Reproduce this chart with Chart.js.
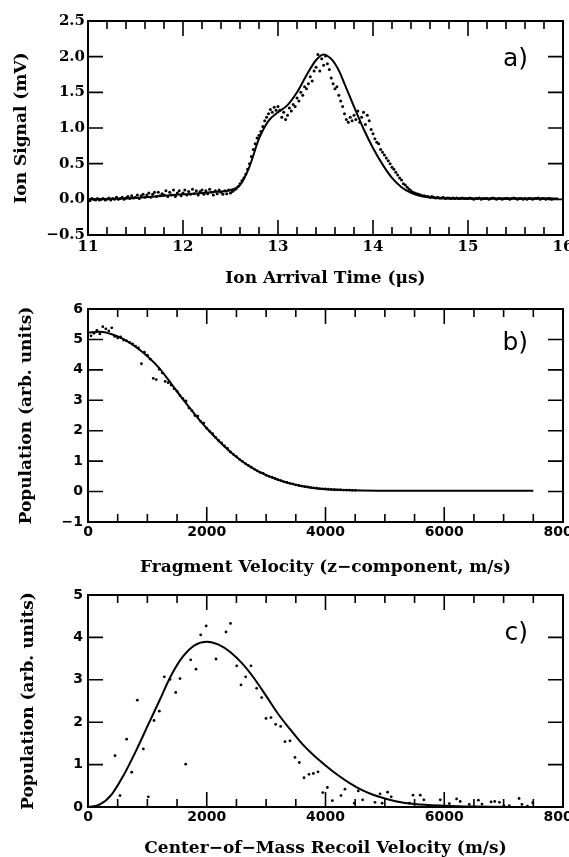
<!DOCTYPE html>
<html>
<head>
<meta charset="utf-8">
<script src="https://cdn.jsdelivr.net/npm/chart.js@4"></script>
<style>
  html, body { margin: 0; padding: 0; background: #fff; }
  body { position: relative; width: 569px; height: 857px; overflow: hidden; }
  canvas { position: absolute; left: 0; }
</style>
</head>
<body>
<canvas id="panelA" width="569" height="290" style="top:0px"></canvas>
<canvas id="panelB" width="569" height="287" style="top:290px"></canvas>
<canvas id="panelC" width="569" height="280" style="top:577px"></canvas>
<script>
// panel a: ion arrival time (us) vs ion signal (mV)
const aTime = [
  11.00, 11.02, 11.04, 11.06, 11.08, 11.10, 11.12, 11.14, 11.16, 11.18,
  11.20, 11.22, 11.24, 11.26, 11.28, 11.30, 11.32, 11.34, 11.36, 11.38,
  11.40, 11.42, 11.44, 11.46, 11.48, 11.50, 11.52, 11.54, 11.56, 11.58,
  11.60, 11.62, 11.64, 11.66, 11.68, 11.70, 11.72, 11.74, 11.76, 11.78,
  11.80, 11.82, 11.84, 11.86, 11.88, 11.90, 11.92, 11.94, 11.96, 11.98,
  12.00, 12.02, 12.04, 12.06, 12.08, 12.10, 12.12, 12.14, 12.16, 12.18,
  12.20, 12.22, 12.24, 12.26, 12.28, 12.30, 12.32, 12.34, 12.36, 12.38,
  12.40, 12.42, 12.44, 12.46, 12.48, 12.50, 12.52, 12.54, 12.56, 12.58,
  12.60, 12.62, 12.64, 12.66, 12.68, 12.70, 12.72, 12.74, 12.76, 12.78,
  12.80, 12.82, 12.84, 12.86, 12.88, 12.90, 12.92, 12.94, 12.96, 12.98,
  13.00, 13.02, 13.04, 13.06, 13.08, 13.10, 13.12, 13.14, 13.16, 13.18,
  13.20, 13.22, 13.24, 13.26, 13.28, 13.30, 13.32, 13.34, 13.36, 13.38,
  13.40, 13.42, 13.44, 13.46, 13.48, 13.50, 13.52, 13.54, 13.56, 13.58,
  13.60, 13.62, 13.64, 13.66, 13.68, 13.70, 13.72, 13.74, 13.76, 13.78,
  13.80, 13.82, 13.84, 13.86, 13.88, 13.90, 13.92, 13.94, 13.96, 13.98,
  14.00, 14.02, 14.04, 14.06, 14.08, 14.10, 14.12, 14.14, 14.16, 14.18,
  14.20, 14.22, 14.24, 14.26, 14.28, 14.30, 14.32, 14.34, 14.36, 14.38,
  14.40, 14.42, 14.44, 14.46, 14.48, 14.50, 14.52, 14.54, 14.56, 14.58,
  14.60, 14.62, 14.64, 14.66, 14.68, 14.70, 14.72, 14.74, 14.76, 14.78,
  14.80, 14.82, 14.84, 14.86, 14.88, 14.90, 14.92, 14.94, 14.96, 14.98,
  15.00, 15.02, 15.04, 15.06, 15.08, 15.10, 15.12, 15.14, 15.16, 15.18,
  15.20, 15.22, 15.24, 15.26, 15.28, 15.30, 15.32, 15.34, 15.36, 15.38,
  15.40, 15.42, 15.44, 15.46, 15.48, 15.50, 15.52, 15.54, 15.56, 15.58,
  15.60, 15.62, 15.64, 15.66, 15.68, 15.70, 15.72, 15.74, 15.76, 15.78,
  15.80, 15.82, 15.84, 15.86, 15.88
];
const aSignal = [
  0.00, -0.02, 0.01, 0.00, -0.01, 0.01, -0.01, 0.00, 0.01, -0.01,
  0.00, 0.02, -0.01, 0.01, 0.00, 0.03, 0.00, 0.01, 0.03, 0.00,
  0.02, 0.04, 0.01, 0.05, 0.02, 0.03, 0.06, 0.01, 0.05, 0.07,
  0.03, 0.06, 0.09, 0.03, 0.07, 0.10, 0.04, 0.10, 0.05, 0.08,
  0.06, 0.12, 0.04, 0.10, 0.06, 0.13, 0.04, 0.09, 0.12, 0.05,
  0.09, 0.13, 0.06, 0.11, 0.07, 0.14, 0.08, 0.12, 0.06, 0.11,
  0.13, 0.07, 0.12, 0.08, 0.14, 0.10, 0.06, 0.12, 0.08, 0.13,
  0.10, 0.07, 0.12, 0.08, 0.13, 0.09, 0.11, 0.13, 0.15, 0.18,
  0.22, 0.26, 0.30, 0.35, 0.42, 0.50, 0.60, 0.70, 0.78, 0.86,
  0.90, 0.95, 1.02, 1.10, 1.15, 1.20, 1.26, 1.22, 1.29, 1.25,
  1.30, 1.25, 1.15, 1.22, 1.12, 1.18, 1.28, 1.24, 1.33, 1.30,
  1.42, 1.38, 1.50, 1.46, 1.58, 1.55, 1.62, 1.72, 1.66, 1.80,
  1.85, 2.03, 1.80, 1.97, 1.88, 2.01, 1.90, 1.82, 1.70, 1.62,
  1.55, 1.58, 1.46, 1.38, 1.30, 1.20, 1.12, 1.08, 1.15, 1.10,
  1.18, 1.12, 1.24, 1.08, 1.15, 1.22, 1.05, 1.18, 1.10, 0.98,
  0.92, 0.85, 0.80, 0.78, 0.70, 0.66, 0.62, 0.58, 0.54, 0.50,
  0.45, 0.42, 0.38, 0.34, 0.30, 0.27, 0.22, 0.20, 0.17, 0.14,
  0.12, 0.10, 0.09, 0.08, 0.07, 0.06, 0.05, 0.05, 0.04, 0.04,
  0.03, 0.04, 0.03, 0.02, 0.03, 0.02, 0.02, 0.03, 0.01, 0.02,
  0.02, 0.01, 0.02, 0.01, 0.02, 0.01, 0.01, 0.02, 0.01, 0.01,
  0.01, 0.02, 0.01, 0.00, 0.01, 0.01, 0.02, 0.00, 0.01, 0.01,
  0.01, 0.00, 0.01, 0.02, 0.01, 0.00, 0.01, 0.01, 0.00, 0.01,
  0.01, 0.01, 0.00, 0.01, 0.02, 0.01, 0.00, 0.01, 0.01, 0.00,
  0.01, 0.00, 0.01, 0.01, 0.00, 0.01, 0.01, 0.02, 0.00, 0.01,
  0.01, 0.00, 0.01, 0.01, 0.00
];
const aFitTime = [11.0, 11.5, 12.0, 12.3, 12.5, 12.6, 12.7, 12.8, 12.9, 13.0, 13.1, 13.2, 13.3, 13.4, 13.48,
  13.55, 13.6, 13.65, 13.7, 13.8, 13.9, 14.0, 14.1, 14.2, 14.3, 14.4, 14.5, 14.6, 14.8, 15.95];
const aFitSignal = [0.0, 0.02, 0.07, 0.10, 0.13, 0.20, 0.46, 0.85, 1.10, 1.22, 1.32, 1.50, 1.74, 1.95, 2.03,
  1.98, 1.90, 1.78, 1.62, 1.30, 0.99, 0.72, 0.49, 0.30, 0.17, 0.09, 0.045, 0.025, 0.012, 0.01];
const aTicksX = [11, 12, 13, 14, 15, 16];
const aTicksY = [-0.5, 0.0, 0.5, 1.0, 1.5, 2.0, 2.5];

// panel b: fragment velocity (z-component) vs population
const bVel = [50, 100, 150, 200, 250, 300, 350, 400, 450, 500,
  550, 600, 650, 700, 750, 800, 850, 900, 950, 1000,
  1050, 1100, 1150, 1200, 1250, 1300, 1350, 1400, 1450, 1500,
  1550, 1600, 1650, 1700, 1750, 1800, 1850, 1900, 1950, 2000,
  2050, 2100, 2150, 2200, 2250, 2300, 2350, 2400, 2450, 2500,
  2550, 2600, 2650, 2700, 2750, 2800, 2850, 2900, 2950, 3000,
  3050, 3100, 3150, 3200, 3250, 3300, 3350, 3400, 3450, 3500,
  3550, 3600, 3650, 3700, 3750, 3800, 3850, 3900, 3950, 4000,
  4050, 4100, 4150, 4200, 4250, 4300, 4350, 4400, 4450, 4500];
const bPop = [5.12, 5.20, 5.30, 5.18, 5.42, 5.35, 5.28, 5.38, 5.10, 5.05,
  5.08, 4.98, 4.95, 4.90, 4.85, 4.78, 4.72, 4.20, 4.58, 4.48,
  4.35, 3.72, 3.68, 4.02, 3.90, 3.62, 3.58, 3.50, 3.38, 3.30,
  3.15, 3.05, 2.98, 2.75, 2.66, 2.50, 2.48, 2.30, 2.25, 2.08,
  1.98, 1.90, 1.78, 1.68, 1.60, 1.50, 1.42, 1.30, 1.22, 1.15,
  1.06, 0.99, 0.92, 0.86, 0.80, 0.74, 0.68, 0.63, 0.60, 0.54,
  0.50, 0.47, 0.43, 0.39, 0.36, 0.32, 0.30, 0.27, 0.25, 0.22,
  0.20, 0.18, 0.16, 0.15, 0.13, 0.12, 0.11, 0.10, 0.09, 0.09,
  0.08, 0.07, 0.07, 0.06, 0.06, 0.05, 0.05, 0.05, 0.04, 0.04];
const bFitVel = [0, 200, 400, 600, 800, 1000, 1200, 1400, 1600, 1800, 2000, 2200, 2400, 2600, 2800,
  3000, 3200, 3400, 3600, 3800, 4000, 4300, 4600, 5000, 7500];
const bFitPop = [5.22, 5.25, 5.17, 5.01, 4.76, 4.45, 4.06, 3.55, 3.03, 2.54, 2.08, 1.67, 1.30, 0.99, 0.74,
  0.54, 0.39, 0.27, 0.18, 0.12, 0.08, 0.05, 0.035, 0.03, 0.03];
const bTicksX = [0, 2000, 4000, 6000, 8000];
const bTicksY = [-1, 0, 1, 2, 3, 4, 5, 6];

// panel c: centre-of-mass recoil velocity vs population
const cVel = [455, 539, 651, 736, 831, 932, 1016, 1112, 1201, 1286, 1381, 1477, 1550, 1645, 1729, 1819,
  1898, 1990, 2156, 2324, 2400, 2504, 2577, 2656, 2745, 2841, 2925, 2998, 3082, 3161, 3245, 3318,
  3402, 3486, 3559, 3638, 3722, 3795, 3874, 3953, 4031, 4116, 4261, 4328, 4485, 4552, 4626, 4834,
  4918, 4954, 5046, 5107, 5413, 5474, 5596, 5657, 5933, 6086, 6208, 6269, 6422, 6575, 6636, 6789,
  6850, 6930, 7003, 7095, 7260, 7309, 7401, 7490];
const cPop = [1.21, 0.27, 1.60, 0.82, 2.52, 1.37, 0.24, 2.04, 2.26, 3.07, 3.01, 2.70, 3.03, 1.01, 3.47, 3.25,
  4.06, 4.27, 3.49, 4.13, 4.33, 3.33, 2.88, 3.07, 3.33, 2.80, 2.58, 2.09, 2.11, 1.95, 1.90, 1.54,
  1.56, 1.17, 1.05, 0.69, 0.77, 0.79, 0.83, 0.34, 0.46, 0.15, 0.27, 0.42, 0.09, 0.38, 0.17, 0.11,
  0.31, 0.09, 0.35, 0.24, 0.09, 0.28, 0.28, 0.17, 0.17, 0.08, 0.19, 0.13, 0.06, 0.16, 0.07, 0.12,
  0.13, 0.11, 0.03, 0.03, 0.20, 0.06, 0.02, 0.10];
const cFitVel = [0, 200, 400, 600, 800, 1000, 1200, 1400, 1600, 1800, 2000, 2200, 2400, 2600, 2800,
  3000, 3200, 3400, 3600, 3800, 4000, 4200, 4400, 4600, 4800, 5000, 5200, 5500, 6000, 6500, 7500];
const cFitPop = [0.0, 0.06, 0.30, 0.75, 1.30, 1.90, 2.50, 3.10, 3.55, 3.82, 3.90, 3.83, 3.65, 3.38, 3.03,
  2.62, 2.20, 1.84, 1.50, 1.22, 0.98, 0.76, 0.57, 0.41, 0.29, 0.20, 0.13, 0.07, 0.03, 0.01, 0.0];
const cTicksX = [0, 2000, 4000, 6000, 8000];
const cTicksY = [0, 1, 2, 3, 4, 5];

const pairs = (xs, ys) => xs.map((x, i) => ({ x, y: ys[i] }));
const minus = s => s.replace('-', '\u2212');

// frame, inward tick marks on all four sides, and the a)/b)/c) tag
const frameTicks = {
  id: 'frameTicks',
  afterDatasetsDraw(chart, args, o) {
    const { ctx, chartArea: a, scales: { x, y } } = chart;
    const isMajor = (v, step) => Math.abs(v / step - Math.round(v / step)) < 1e-6;
    ctx.save();
    ctx.strokeStyle = '#000';
    ctx.lineWidth = 1.6;
    ctx.beginPath();
    for (let i = 0; ; i++) {
      const v = x.min + i * o.xMinor;
      if (v > x.max + 1e-9) break;
      const len = isMajor(v, o.xMajor) ? 15 : 8;
      const px = x.getPixelForValue(v);
      ctx.moveTo(px, a.bottom); ctx.lineTo(px, a.bottom - len);
      ctx.moveTo(px, a.top); ctx.lineTo(px, a.top + len);
    }
    for (let i = 0; ; i++) {
      const v = y.min + i * o.yMinor;
      if (v > y.max + 1e-9) break;
      const len = isMajor(v, o.yMajor) ? 15 : 8;
      const py = y.getPixelForValue(v);
      ctx.moveTo(a.left, py); ctx.lineTo(a.left + len, py);
      ctx.moveTo(a.right, py); ctx.lineTo(a.right - len, py);
    }
    ctx.stroke();
    ctx.lineWidth = 2;
    ctx.strokeRect(a.left, a.top, a.right - a.left, a.bottom - a.top);
    ctx.fillStyle = '#000';
    ctx.font = '25px "DejaVu Sans"';
    ctx.textAlign = 'right';
    ctx.textBaseline = 'middle';
    ctx.fillText(o.tag, o.tagX, o.tagY);
    ctx.restore();
  }
};

const titleFont = { family: '"DejaVu Serif"', size: 17, weight: 'bold', lineHeight: 1 };

function makePanel(id, p) {
  return new Chart(document.getElementById(id), {
    type: 'scatter',
    data: {
      datasets: [
        { data: p.dots, pointRadius: p.dotSize, pointBorderWidth: 0, backgroundColor: '#000', borderColor: '#000' },
        { data: p.fit, showLine: true, pointRadius: 0, borderColor: '#000', borderWidth: 2,
          cubicInterpolationMode: 'monotone', fill: false }
      ]
    },
    options: {
      responsive: false,
      animation: false,
      events: [],
      layout: { padding: { left: 0, right: 6, top: p.top, bottom: 0 } },
      plugins: {
        legend: { display: false },
        tooltip: { enabled: false },
        frameTicks: p.ticks
      },
      scales: {
        x: {
          type: 'linear',
          min: p.xTicks[0],
          max: p.xTicks[p.xTicks.length - 1],
          grid: { display: false, drawTicks: false },
          border: { display: false },
          afterBuildTicks: s => { s.ticks = p.xTicks.map(v => ({ value: v })); },
          ticks: { autoSkip: false, maxRotation: 0, padding: p.xPad, color: '#000', font: p.tickFont,
                   callback: v => minus(String(v)) },
          title: { display: true, text: p.xTitle, color: '#000', font: titleFont,
                   padding: { top: 0, bottom: p.xTitlePad } },
          afterFit: s => { s.height = p.xHeight; s.paddingLeft = 0; s.paddingRight = 0; }
        },
        y: {
          type: 'linear',
          min: p.yTicks[0],
          max: p.yTicks[p.yTicks.length - 1],
          grid: { display: false, drawTicks: false },
          border: { display: false },
          afterBuildTicks: s => { s.ticks = p.yTicks.map(v => ({ value: v })); },
          ticks: { autoSkip: false, padding: p.yPad, color: '#000', font: p.tickFont,
                   callback: v => minus(p.yFmt(v)) },
          title: { display: true, text: p.yTitle, color: '#000', font: titleFont,
                   padding: { top: p.yTitlePad, bottom: 0 } },
          afterFit: s => { s.width = 88; s.paddingTop = 0; s.paddingBottom = 0; }
        }
      }
    },
    plugins: [frameTicks]
  });
}

makePanel('panelA', {
  dots: pairs(aTime, aSignal),
  fit: pairs(aFitTime, aFitSignal),
  dotSize: 1.5,
  xTicks: aTicksX, yTicks: aTicksY,
  yFmt: v => v.toFixed(1),
  top: 21, xHeight: 55, xPad: 3, yPad: 3, xTitlePad: 3, yTitlePad: 13,
  tickFont: { family: '"DejaVu Serif"', size: 15, weight: 'bold' },
  xTitle: 'Ion Arrival Time (\u03bcs)',
  yTitle: 'Ion Signal (mV)',
  ticks: { xMinor: 0.2, xMajor: 1, yMinor: 0.5, yMajor: 0.5, tag: 'a)', tagX: 528, tagY: 59 }
});

makePanel('panelB', {
  dots: pairs(bVel, bPop),
  fit: pairs(bFitVel, bFitPop),
  dotSize: 1.4,
  xTicks: bTicksX, yTicks: bTicksY,
  yFmt: v => String(v),
  top: 19, xHeight: 55, xPad: 2, yPad: 5, xTitlePad: 1, yTitlePad: 18,
  tickFont: { family: '"DejaVu Sans"', size: 14, weight: 'bold' },
  xTitle: 'Fragment Velocity (z\u2212component, m/s)',
  yTitle: 'Population (arb. units)',
  ticks: { xMinor: 500, xMajor: 2000, yMinor: 1, yMajor: 1, tag: 'b)', tagX: 528, tagY: 53 }
});

makePanel('panelC', {
  dots: pairs(cVel, cPop),
  fit: pairs(cFitVel, cFitPop),
  dotSize: 1.4,
  xTicks: cTicksX, yTicks: cTicksY,
  yFmt: v => String(v),
  top: 18, xHeight: 50, xPad: 2, yPad: 5, xTitlePad: 0, yTitlePad: 20,
  tickFont: { family: '"DejaVu Sans"', size: 14, weight: 'bold' },
  xTitle: 'Center\u2212of\u2212Mass Recoil Velocity (m/s)',
  yTitle: 'Population (arb. units)',
  ticks: { xMinor: 500, xMajor: 2000, yMinor: 1, yMajor: 1, tag: 'c)', tagX: 528, tagY: 56 }
});
</script>
</body>
</html>
